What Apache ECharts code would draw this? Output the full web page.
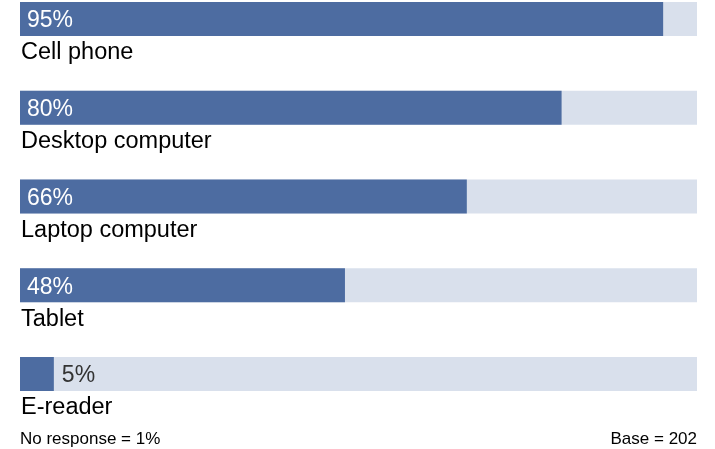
<!DOCTYPE html>
<html>
<head>
<meta charset="utf-8">
<script src="https://cdn.jsdelivr.net/npm/echarts@6/dist/echarts.min.js"></script>
<style>
  html, body { margin: 0; padding: 0; background: #fff; }
  #chart { width: 715px; height: 449px; }
</style>
</head>
<body>
<div id="chart"></div>
<script>
// Device ownership shares
var categories = ['Cell phone', 'Desktop computer', 'Laptop computer', 'Tablet', 'E-reader'];
var shares = [95, 80, 66, 48, 5];
var noteLeft = 'No response = 1%';
var noteRight = 'Base = 202';

var FONT = '"Liberation Sans", Arial, Helvetica, sans-serif';
var BAR = '#4d6ca1';
var TRACK = '#d9e0ec';

// Short bars carry their value outside, to the right of the bar end
var barData = shares.map(function (v) {
  var inside = v >= 15;
  return {
    value: v,
    label: inside
      ? { position: 'insideLeft', distance: 7, color: '#ffffff' }
      : { position: 'right', distance: 8, color: '#333333' }
  };
});

var chart = echarts.init(document.getElementById('chart'), null, { renderer: 'canvas' });
chart.setOption({
  animation: false,
  backgroundColor: '#ffffff',
  grid: { left: 20, right: 18, top: 19, bottom: 75, containLabel: false },
  xAxis: {
    type: 'value', min: 0, max: 100,
    show: false
  },
  yAxis: {
    type: 'category',
    data: categories,
    inverse: true,
    boundaryGap: false,
    axisLine: { show: false },
    axisTick: { show: false },
    splitLine: { show: false },
    axisLabel: {
      inside: true,
      margin: 1,
      align: 'left',
      verticalAlign: 'top',
      padding: [22, 0, 0, 0],
      fontFamily: FONT,
      fontSize: 23.5,
      color: '#000000'
    }
  },
  series: [{
    type: 'bar',
    data: barData,
    barWidth: 34,
    itemStyle: { color: BAR },
    showBackground: true,
    backgroundStyle: { color: TRACK },
    label: {
      show: true,
      formatter: '{c}%',
      fontFamily: FONT,
      fontSize: 23,
      offset: [0, 2]
    }
  }],
  graphic: [
    {
      type: 'text', left: 20, top: 431,
      style: { text: noteLeft, fontFamily: FONT, fontSize: 17, fill: '#000000' }
    },
    {
      type: 'text', right: 18, top: 431,
      style: { text: noteRight, fontFamily: FONT, fontSize: 17, fill: '#000000' }
    }
  ]
});
</script>
</body>
</html>
